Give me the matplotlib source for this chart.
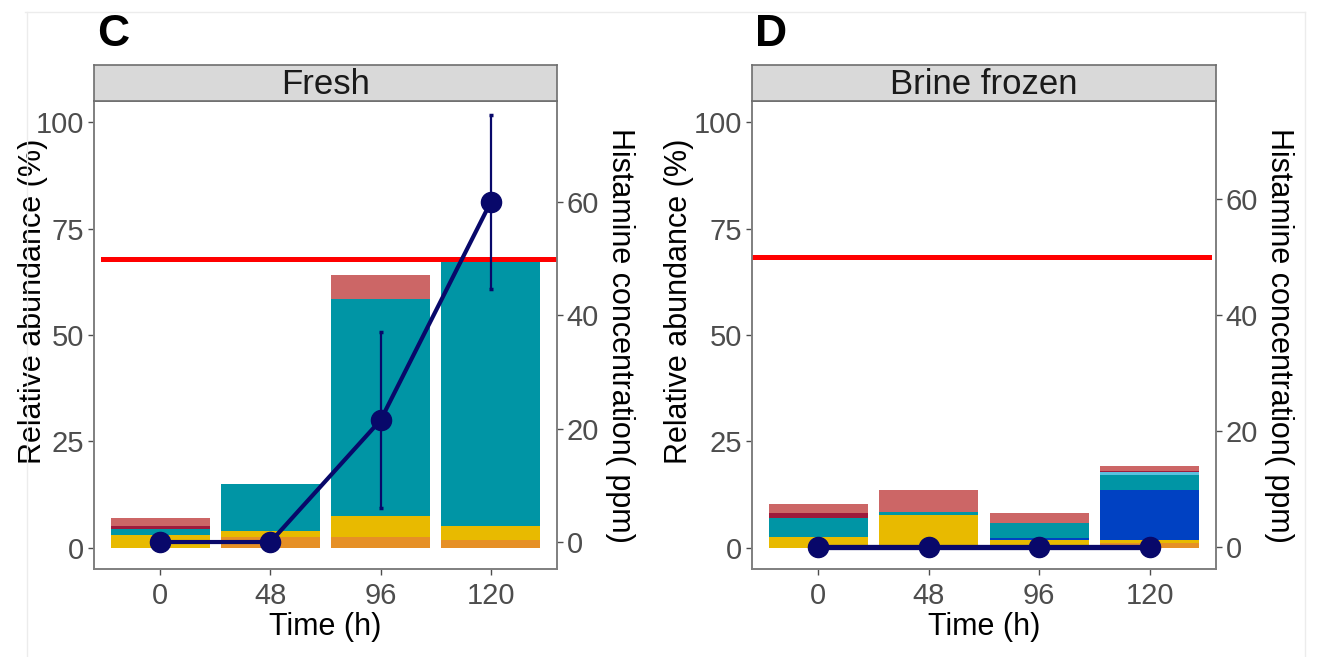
import matplotlib
matplotlib.use('Agg')
import matplotlib.pyplot as plt
import numpy as np

plt.rcParams['font.family'] = ['Liberation Sans', 'DejaVu Sans']

# ---------------- data ----------------
time_labels = ['0', '48', '96', '120']
panels = ['Fresh', 'Brine frozen']
letters = ['C', 'D']

layer_names = ['orange', 'yellow', 'blue', 'teal', 'cyan', 'darkred', 'salmon']
layer_colors = ['#E69026', '#E8BA00', '#0041C2', '#0095A5', '#5BC0DE', '#9E1B3C', '#CC6666']

fresh_orange = [0.0, 2.6, 2.5, 1.7]
fresh_yellow = [2.9, 1.3, 4.9, 3.3]
fresh_blue = [0.0, 0.0, 0.0, 0.0]
fresh_teal = [1.4, 11.1, 51.1, 62.2]
fresh_cyan = [0.0, 0.0, 0.0, 0.0]
fresh_darkred = [0.8, 0.0, 0.0, 0.0]
fresh_salmon = [1.8, 0.0, 5.5, 0.3]

brine_orange = [0.0, 0.3, 0.5, 1.2]
brine_yellow = [2.6, 7.3, 1.2, 0.5]
brine_blue = [0.0, 0.0, 0.65, 11.8]
brine_teal = [4.5, 0.9, 3.5, 3.7]
brine_cyan = [0.0, 0.0, 0.0, 0.6]
brine_darkred = [1.0, 0.0, 0.0, 0.2]
brine_salmon = [2.1, 5.0, 2.3, 1.3]

fresh_histamine = [0.0, 0.0, 21.5, 60.0]
fresh_histamine_sd = [0.0, 0.0, 15.5, 15.3]
brine_histamine = [0.0, 0.0, 0.0, 0.0]
brine_histamine_sd = [0.0, 0.0, 0.0, 0.0]

threshold_ppm = 50

fresh_layers = [fresh_orange, fresh_yellow, fresh_blue, fresh_teal, fresh_cyan, fresh_darkred, fresh_salmon]
brine_layers = [brine_orange, brine_yellow, brine_blue, brine_teal, brine_cyan, brine_darkred, brine_salmon]

# ---------------- layout ----------------
W, H = 1327, 657
fig = plt.figure(figsize=(W / 100, H / 100), dpi=100)
fig.patch.set_facecolor('white')

def fr(x0, y0_top, x1, y1_bot):
    return [x0 / W, 1 - y1_bot / H, (x1 - x0) / W, (y1_bot - y0_top) / H]

# faint outer frame
fig.add_artist(plt.Line2D([25 / W, 1305 / W], [1 - 12 / H, 1 - 12 / H], color='#ececec', lw=1))
fig.add_artist(plt.Line2D([27 / W, 27 / W], [1 - 12 / H, 0], color='#ececec', lw=1))
fig.add_artist(plt.Line2D([1305 / W, 1305 / W], [1 - 12 / H, 0], color='#ececec', lw=1))

panel_x = [(94, 557), (752, 1216)]
ax_top, ax_bot = 101, 569
strip_top = 65
sec_lims = [(-4.76, 77.8), (-3.83, 77.0)]
red_span = [(0.02, 1.0), (0.0, 0.985)]
ylabel_x = [-0.099, -0.125]
layers_all = [fresh_layers, brine_layers]
hist_all = [(fresh_histamine, fresh_histamine_sd), (brine_histamine, brine_histamine_sd)]
hist_lw = [3.0, 3.8]

border_col = '#7F7F7F'
tick_col = '#4D4D4D'
navy = '#08086A'

x = np.arange(1, len(time_labels) + 1)

for i in range(2):
    x0, x1 = panel_x[i]
    ax = fig.add_axes(fr(x0, ax_top, x1, ax_bot))
    bottom = np.zeros(len(time_labels))
    for vals, col in zip(layers_all[i], layer_colors):
        v = np.array(vals)
        ax.bar(x, v, width=0.9, bottom=bottom, color=col, linewidth=0, zorder=1)
        bottom += v
    ax.set_xlim(0.4, 4.6)
    ax.set_ylim(-5, 105)
    ax.set_yticks([0, 25, 50, 75, 100])
    ax.set_xticks(x)
    ax.set_xticklabels(time_labels)
    ax.tick_params(axis='both', labelsize=21, colors=tick_col, length=4, width=1, pad=3)
    ax.tick_params(axis='x', pad=5)
    ax.set_ylabel('Relative abundance (%)', fontsize=22, color='black')
    ax.yaxis.set_label_coords(ylabel_x[i], 0.573)
    ax.set_xlabel('Time (h)', fontsize=22, color='black', labelpad=2)
    for s in ax.spines.values():
        s.set_color(border_col)
        s.set_linewidth(1.2)

    ax2 = ax.twinx()
    ax2.set_ylim(*sec_lims[i])
    ax2.set_yticks([0, 20, 40, 60])
    ax2.tick_params(axis='y', labelsize=21, colors=tick_col, length=4, width=1, pad=3)
    ax2.set_ylabel('Histamine concentration( ppm)', fontsize=22, color='black',
                   rotation=270, labelpad=26)
    for s in ax2.spines.values():
        s.set_color(border_col)
        s.set_linewidth(1.2)
    ax2.axhline(threshold_ppm, xmin=red_span[i][0], xmax=red_span[i][1],
                color='#FF0000', lw=3.6, zorder=2)
    h, sd = hist_all[i]
    h = np.array(h); sd = np.array(sd)
    mask = sd > 0
    if mask.any():
        ax2.errorbar(x[mask], h[mask], yerr=sd[mask], fmt='none', ecolor=navy,
                     elinewidth=1.6, capsize=1.5, capthick=2.5, zorder=3)
    ax2.plot(x, h, color=navy, lw=hist_lw[i], marker='o', markersize=14.5,
             markerfacecolor=navy, markeredgecolor=navy, zorder=4, clip_on=False)

    # strip
    sax = fig.add_axes(fr(x0, strip_top, x1, ax_top))
    sax.set_facecolor('#D9D9D9')
    sax.set_xticks([]); sax.set_yticks([])
    for s in sax.spines.values():
        s.set_color('#6E6E6E')
        s.set_linewidth(1.2)
    sax.text(0.5, 0.47, panels[i], ha='center', va='center', fontsize=25,
             color='#1A1A1A', transform=sax.transAxes)

    fig.text((x0 + 3) / W, 1 - 34 / H, letters[i], fontsize=32, fontweight='bold',
             ha='left', va='center', color='black')

fig.savefig('out.png', dpi=100, facecolor='white')
